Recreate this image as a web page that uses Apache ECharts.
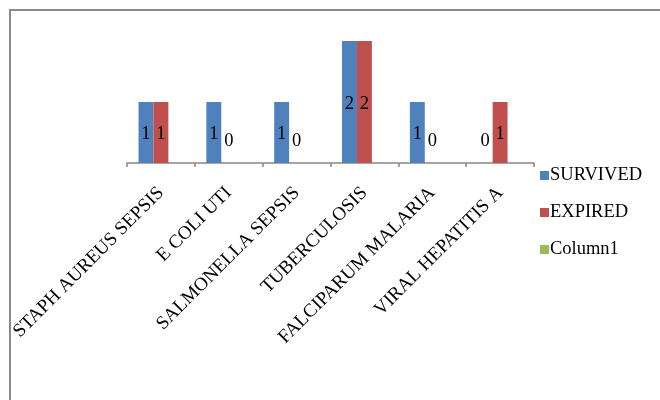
<!DOCTYPE html>
<html><head><meta charset="utf-8">
<script src="https://cdn.jsdelivr.net/npm/echarts@6/dist/echarts.min.js"></script>
<style>html,body{margin:0;padding:0;background:#fff}#c{width:660px;height:400px}</style>
</head><body><div id="c"></div>
<script>
const categories = ['STAPH AUREUS SEPSIS','E COLI UTI','SALMONELLA SEPSIS','TUBERCULOSIS','FALCIPARUM MALARIA','VIRAL HEPATITIS A'];
const survived = [1,1,1,2,1,0];
const expired = [1,0,0,2,0,1];
const column1 = [null,null,null,null,null,null];

const font = 'Liberation Serif, Times New Roman, serif';
function toData(arr){
  return arr.map(v => v === 0 ? {value:0, label:{offset:[0,-22]}} : v);
}
const chart = echarts.init(document.getElementById('c'));
chart.setOption({
  animation:false,
  textStyle:{fontFamily:font},
  graphic:[{type:'rect',shape:{x:10,y:10,width:700,height:500},style:{fill:'none',stroke:'#8a8a8a',lineWidth:2},silent:true}],
  grid:{left:127,right:126,top:41,bottom:237},
  legend:{orient:'vertical',left:535,top:161,itemWidth:9,itemHeight:9,itemGap:18,icon:'rect',
    textStyle:{fontFamily:font,fontSize:18.5,color:'#000',padding:[0,0,0,-4]},
    data:['SURVIVED','EXPIRED','Column1']},
  xAxis:{type:'category',data:categories,
    axisLine:{lineStyle:{color:'#868686',width:1.5}},
    axisTick:{show:true,length:4,lineStyle:{color:'#868686',width:1.5}},
    axisLabel:{rotate:45,interval:0,margin:27,fontFamily:font,fontSize:19,color:'#000'}},
  yAxis:{type:'value',min:0,max:2,show:false,splitLine:{show:false}},
  series:[
    {name:'SURVIVED',type:'bar',data:toData(survived),barGap:'0%',barCategoryGap:'34%',itemStyle:{color:'#4F81BD'},
      label:{show:true,position:'inside',offset:[0,2],fontFamily:font,fontSize:18.5,color:'#000'}},
    {name:'EXPIRED',type:'bar',data:toData(expired),barGap:'0%',barCategoryGap:'34%',itemStyle:{color:'#C0504D'},
      label:{show:true,position:'inside',offset:[0,2],fontFamily:font,fontSize:18.5,color:'#000'}},
    {name:'Column1',type:'bar',data:column1,barGap:'0%',barCategoryGap:'34%',itemStyle:{color:'#9BBB59'}}
  ]
});
</script></body></html>
